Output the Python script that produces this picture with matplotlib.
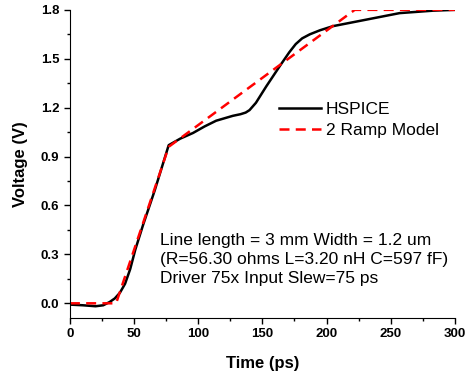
import numpy as np
import matplotlib.pyplot as plt
from matplotlib.ticker import MultipleLocator

plt.rcParams['font.family'] = ['Liberation Sans', 'DejaVu Sans']

# HSPICE simulated output
t_hspice = [0, 10, 20, 26, 31, 35, 39, 43, 47, 51, 57, 66, 77, 86, 96, 105, 114, 127,
            133, 137, 140, 145, 153, 164, 171, 176, 181, 187, 195, 205, 218, 231,
            257, 283, 300]
v_hspice = [-0.008, -0.012, -0.018, -0.012, 0.008, 0.03, 0.065, 0.12, 0.21, 0.33, 0.48,
            0.69, 0.97, 1.01, 1.045, 1.085, 1.12, 1.15, 1.16, 1.17, 1.185, 1.23,
            1.33, 1.46, 1.54, 1.59, 1.625, 1.65, 1.675, 1.70, 1.72, 1.74, 1.78,
            1.795, 1.80]

# 2 ramp model
t_ramp = [0, 36, 77, 222, 300]
v_ramp = [0.0, 0.0, 0.96, 1.80, 1.80]

fig = plt.figure(figsize=(4.66, 3.79), dpi=100)
ax = fig.add_axes([0.150, 0.161, 0.826, 0.813])

ax.plot(t_hspice, v_hspice, color='black', lw=1.8, label='HSPICE')
ax.plot(t_ramp, v_ramp, color='#ff0000', lw=1.8, ls=(0, (4, 2.5)), label='2 Ramp Model')

ax.set_xlim(0, 300)
ax.set_ylim(-0.09, 1.8)
ax.xaxis.set_major_locator(MultipleLocator(50))
ax.xaxis.set_minor_locator(MultipleLocator(25))
ax.yaxis.set_major_locator(MultipleLocator(0.3))
ax.yaxis.set_minor_locator(MultipleLocator(0.15))
ax.yaxis.set_major_formatter(plt.FuncFormatter(lambda v, p: f'{v:.1f}'))

for s in ['top', 'right']:
    ax.spines[s].set_visible(False)
ax.tick_params(which='major', direction='out', length=4, width=1, labelsize=9.5)
ax.tick_params(which='minor', direction='out', length=2, width=1)
for lab in ax.get_xticklabels() + ax.get_yticklabels():
    lab.set_fontweight('bold')

ax.set_xlabel('Time (ps)', fontsize=12, fontweight='bold', labelpad=11)
ax.set_ylabel('Voltage (V)', fontsize=12, fontweight='bold', labelpad=9)

ax.legend(loc='upper left', bbox_to_anchor=(0.525, 0.725), frameon=False,
          fontsize=12.5, handlelength=2.4, handletextpad=0.3, labelspacing=0.35,
          borderaxespad=0)

ax.text(0.235, 0.275, 'Line length = 3 mm Width = 1.2 um\n(R=56.30 ohms L=3.20 nH C=597 fF)\nDriver 75x Input Slew=75 ps',
        transform=ax.transAxes, fontsize=12.5, va='top', ha='left', linespacing=1.32)

fig.savefig('out.png', dpi=100)
